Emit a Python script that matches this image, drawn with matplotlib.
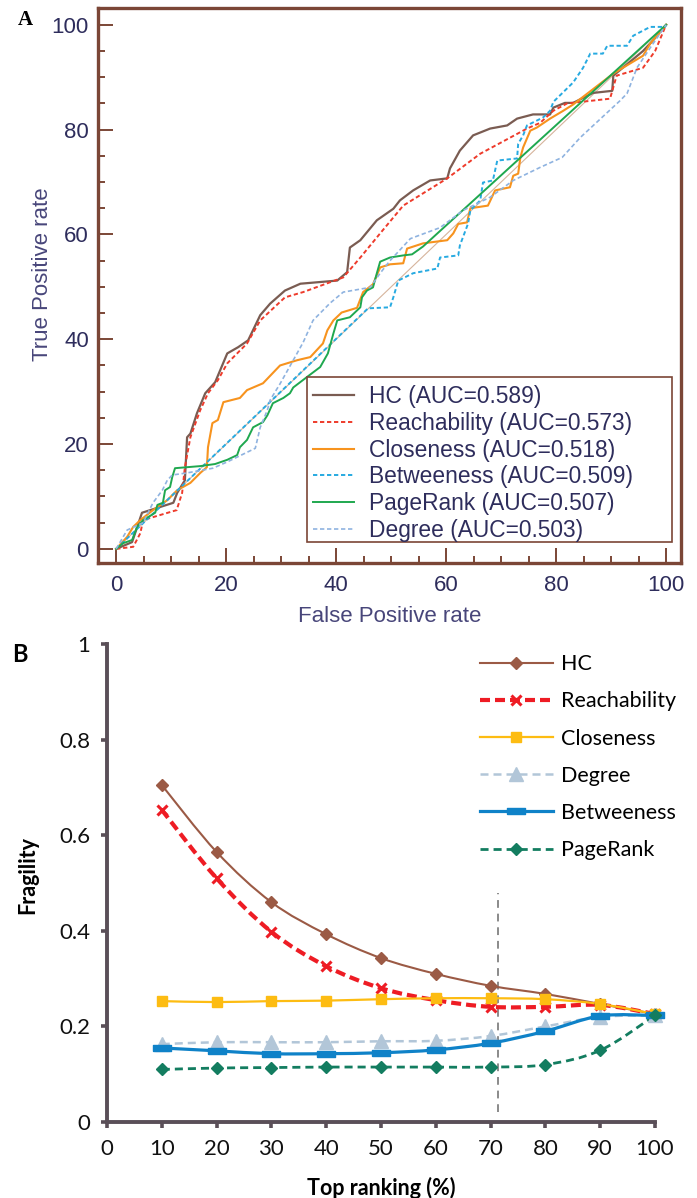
import numpy as np
import matplotlib
matplotlib.use('Agg')
import matplotlib.pyplot as plt
from matplotlib.path import Path
from matplotlib.patches import PathPatch, Rectangle
from matplotlib.lines import Line2D
from matplotlib.ticker import MultipleLocator

# ---------------- panel A : ROC curves ----------------
hc_fpr = [0, 2.9, 4.7, 10.4, 11.1, 12.5, 12.9, 13.5, 14.7, 16.2, 18, 20.2, 22.2, 24, 26.2, 28,
          30.7, 33.5, 40.2, 42, 42.5, 44.4, 47.4, 50.4, 51.6, 54, 57.1, 60.2, 60.7, 62.5, 64.9,
          68, 71.1, 72.9, 75.8, 78.9, 79.5, 81.6, 83.1, 86.7, 90.2, 90.4, 95.8, 97.6, 100]
hc_tpr = [0, 1.3, 6.9, 8.8, 10.7, 13.1, 21.3, 22, 25.9, 29.7, 31.8, 37.3, 38.5, 39.8, 44.6, 46.8,
          49.3, 50.6, 51.2, 52.8, 57.5, 58.9, 62.7, 64.9, 66.5, 68.4, 70.3, 70.7, 72.6, 76, 78.9,
          80.2, 80.8, 82.1, 82.9, 82.9, 84.2, 85.1, 85.1, 87, 87.4, 90.3, 95, 97, 100]

reach_fpr = [0, 3.1, 4.4, 4.9, 11, 12, 12.5, 13.5, 15.3, 16.7, 18.5, 20.2, 23.8, 26.2, 30.7, 34,
             41.3, 44.4, 48, 52.2, 60.2, 66.2, 74.7, 77.1, 79.5, 82, 89.8, 91, 95.8, 98, 100]
reach_tpr = [0, 0.4, 3, 5.5, 7.4, 10.7, 15.6, 21.3, 26.5, 29.7, 32.2, 35.4, 39.2, 43.6, 48, 49,
             51.8, 55.6, 60.2, 65.5, 70.7, 75.4, 80.2, 81.3, 83.6, 85, 85.9, 90.3, 91.8, 95, 100]

close_fpr = [0, 2, 3.1, 4.4, 6.7, 9.3, 11.1, 13.5, 15.3, 16.5, 16.7, 17.5, 18.5, 19.5, 22.5, 23.8,
             26.7, 29.8, 32.9, 35.3, 37.6, 38.4, 39.5, 41, 43.8, 44.9, 46.7, 48, 49.8, 52.2, 52.9,
             55.8, 60.2, 61.3, 62.2, 63.8, 64.4, 67.6, 68.9, 71.6, 72.2, 73.1, 73.5, 74, 75.3,
             76.5, 78.9, 81.3, 83.1, 90.4, 95.8, 97.1, 100]
close_tpr = [0, 2.3, 4.2, 5.5, 7.4, 9.3, 11.2, 12.6, 14.5, 15.6, 19.4, 24, 24.6, 28, 28.8, 30.3,
             31.6, 35, 36, 36.6, 39.2, 41.7, 43.6, 45.1, 46, 49, 50.5, 53.7, 54.3, 54.5, 57.3,
             58.3, 58.9, 60.2, 62, 62.3, 65, 65.5, 68.4, 69, 71.2, 71.6, 74.7, 76.6, 79.8,
             80.4, 82.1, 83.6, 84.8, 90.7, 94.1, 96.4, 100]

betw_fpr = [0, 45.8, 49.8, 50.4, 51.3, 54, 58.4, 58.9, 62.2, 62.5, 64, 64.4, 66.2, 66.7, 68.5, 69.3,
            72.9, 73.1, 74, 74.7, 77.6, 78.9, 79.5, 83.1, 84.9, 86.2, 88.5, 89.3, 92.9, 94, 97.1,
            99.8, 100]
betw_tpr = [0, 45.9, 46.1, 48, 51.2, 52.6, 53.5, 55.6, 56, 57.9, 62.1, 64.6, 66.5, 69.9, 70.3, 74.1,
            74.5, 77.3, 78.9, 80.8, 82.3, 83.6, 85.3, 89, 91.8, 94.5, 94.5, 96, 96, 97.9, 99.6,
            99.6, 100]

pr_fpr = [0, 1.3, 2.9, 3.8, 4.9, 7.1, 7.5, 8.5, 8.9, 9.8, 10.2, 10.7, 15.3, 18, 20.2, 22, 22.5,
          23.8, 24.9, 26.7, 27.5, 28.5, 30.4, 31.6, 32.2, 34.7, 37.1, 38.5, 39.5, 40.2, 42.5,
          44.4, 44.7, 45.6, 46.7, 47.4, 48, 49.8, 52.2, 53.8, 55.8, 100]
pr_tpr = [0, 1.1, 1.7, 4.2, 5.5, 6.9, 8.4, 8.8, 11.2, 11.8, 13.7, 15.4, 15.8, 16.2, 17, 17.9, 19.4,
          20.8, 23.2, 24.2, 25.5, 27.8, 28.8, 29.7, 30.8, 32.8, 34.7, 37.3, 41.1, 43.6, 44.2,
          46.1, 48, 49.3, 49.9, 52.6, 54.8, 55.6, 56, 56.2, 57.7, 100]

deg_fpr = [0, 2, 4.9, 6.7, 8.4, 9.3, 10.2, 12.9, 17.6, 20.2, 25.3, 26.2, 27.5, 28, 29.8, 32.2, 34,
           35.8, 38.9, 41.3, 46.2, 48, 49.8, 53.5, 58.9, 63.1, 68, 72.2, 77.1, 81.1, 84.4, 91.6,
           92.9, 94.7, 97.1, 100]
deg_tpr = [0, 3.6, 5, 8.8, 11.2, 13.1, 14.1, 14.5, 15.4, 16.6, 19.2, 23.2, 26.5, 28.4, 31.5, 36,
           39.4, 43.6, 46.9, 49, 49.9, 52.6, 55, 59.2, 61.3, 64.6, 67.1, 70.3, 72.8, 74.7, 78.5,
           85.5, 86.9, 91.8, 95.6, 100]

roc_names = ['HC', 'Reachability', 'Closeness', 'Betweeness', 'PageRank', 'Degree']
roc_auc = [0.589, 0.573, 0.518, 0.509, 0.507, 0.503]

# ---------------- panel B : fragility ----------------
top_rank = [10, 20, 30, 40, 50, 60, 70, 80, 90, 100]
frag_hc = [0.705, 0.565, 0.460, 0.393, 0.343, 0.310, 0.285, 0.268, 0.247, 0.226]
frag_reach = [0.653, 0.510, 0.398, 0.326, 0.280, 0.255, 0.241, 0.241, 0.245, 0.226]
frag_close = [0.253, 0.251, 0.253, 0.254, 0.257, 0.259, 0.259, 0.257, 0.247, 0.226]
frag_deg = [0.163, 0.167, 0.167, 0.167, 0.169, 0.170, 0.180, 0.200, 0.220, 0.223]
frag_betw = [0.155, 0.149, 0.143, 0.143, 0.145, 0.151, 0.165, 0.190, 0.222, 0.223]
frag_pr = [0.110, 0.113, 0.114, 0.115, 0.115, 0.115, 0.115, 0.120, 0.150, 0.223]
cutoff = 71.4


def smooth_path(xs, ys):
    # excel style smoothed line through the points (catmull-rom as bezier)
    pts = np.column_stack([xs, ys]).astype(float)
    p = np.vstack([pts[0], pts, pts[-1]])
    verts = [pts[0]]
    codes = [Path.MOVETO]
    for i in range(1, len(p) - 2):
        c1 = p[i] + (p[i + 1] - p[i - 1]) / 6
        c2 = p[i + 1] - (p[i + 2] - p[i]) / 6
        verts += [c1, c2, p[i + 1]]
        codes += [Path.CURVE4] * 3
    return Path(verts, codes)


fig = plt.figure(figsize=(6.97, 11.98), dpi=100)

# ======== A ========
brown = '#7b4636'
navy = '#2e2d5c'
axA = fig.add_axes([0.1406, 0.530, 0.8364, 0.4633])
axA.plot([0, 100], [0, 100], color='#d6b49c', lw=0.8, zorder=1)
rocs = [
    (hc_fpr, hc_tpr, '#7a5c52', '-', 1.6),
    (reach_fpr, reach_tpr, '#ee3b2b', (0, (2.2, 1.4)), 1.4),
    (close_fpr, close_tpr, '#f7931e', '-', 1.5),
    (betw_fpr, betw_tpr, '#27aae1', (0, (2.2, 1.4)), 1.4),
    (pr_fpr, pr_tpr, '#1fa84f', '-', 1.4),
    (deg_fpr, deg_tpr, '#8fb3e0', (0, (2.6, 1.6)), 1.2),
]
for (fx, ty, c, ls, lw), name, auc in zip(rocs, roc_names, roc_auc):
    axA.plot(fx, ty, color=c, ls=ls, lw=lw, label='%s (AUC=%.3f)' % (name, auc))

axA.set_xlim(-3.3, 102.7)
axA.set_ylim(-2.7, 103.2)
axA.xaxis.set_major_locator(MultipleLocator(20))
axA.xaxis.set_minor_locator(MultipleLocator(5))
axA.yaxis.set_major_locator(MultipleLocator(20))
axA.yaxis.set_minor_locator(MultipleLocator(5))
for s in axA.spines.values():
    s.set_color(brown)
    s.set_linewidth(2.4)
axA.tick_params(which='both', direction='in', color=brown, width=1.4,
                top=False, right=False)
axA.tick_params(which='major', length=10.5, labelsize=16, labelcolor=navy)
axA.tick_params(which='minor', length=5)
axA.tick_params(axis='x', pad=8.5)
axA.tick_params(axis='y', pad=6.5)
for t in axA.get_xticklabels() + axA.get_yticklabels():
    t.set_family('Liberation Sans')
axA.set_xlabel('False Positive rate', fontsize=16, color='#48467a', family='Liberation Sans')
axA.set_ylabel('True Positive rate', fontsize=16, color='#48467a', family='Liberation Sans')
axA.xaxis.set_label_coords(0.5, -0.078)
axA.yaxis.set_label_coords(-0.077, 0.52)
# legend box drawn separately so its frame can be wider than the text
axA.add_patch(Rectangle((0.358, 0.038), 0.627, 0.297, transform=axA.transAxes, fill=True,
                        facecolor='white', edgecolor=brown, lw=1.2, zorder=4))
legA = axA.legend(loc='upper left', bbox_to_anchor=(0.368, 0.320), frameon=False,
                  borderaxespad=0, prop={'family': 'Liberation Sans', 'size': 16.4},
                  handlelength=1.8, handletextpad=0.7, labelspacing=0.16, borderpad=0)
legA.set_zorder(5)
for t in legA.get_texts():
    t.set_color(navy)
fig.text(0.025, 0.979, 'A', family='Liberation Serif', weight='bold', fontsize=15, color='black')

# ======== B ========
grey = '#5a4f58'
axB = fig.add_axes([0.1535, 0.0634, 0.7862, 0.399])
rect = [(-1, -0.35), (1, -0.35), (1, 0.35), (-1, 0.35), (-1, -0.35)]
series = [
    ('HC', frag_hc, '#9b5a45', '-', 1.5, 'D', 6.5, None),
    ('Reachability', frag_reach, '#ee1c24', (0, (2.4, 1.2)), 3.0, 'x', 7.5, 2.2),
    ('Closeness', frag_close, '#fdbc12', '-', 1.6, 's', 7.5, None),
    ('Degree', frag_deg, '#b2c6d8', (0, (3.2, 2.0)), 1.8, '^', 10, None),
    ('Betweeness', frag_betw, '#0f82c8', '-', 2.3, rect, 13, None),
    ('PageRank', frag_pr, '#137d60', (0, (2.9, 1.8)), 2.0, 'D', 6.5, None),
]
handles = []
for name, vals, c, ls, lw, mk, ms, mew in series:
    patch = PathPatch(smooth_path(top_rank, vals), fill=False, edgecolor=c, lw=lw,
                      linestyle=ls, clip_on=False, zorder=2)
    axB.add_patch(patch)
    kw = dict(color=c, marker=mk, ms=ms)
    if mew:
        kw['mew'] = mew
    axB.plot(top_rank, vals, ls='none', clip_on=False, zorder=3, **kw)
    handles.append(Line2D([0], [0], ls=ls, lw=lw, label=name, **kw))

axB.vlines(cutoff, 0.02, 0.48, colors='#8a8a8a', linestyles=(0, (4, 3)), lw=1.4, zorder=1)

axB.set_xlim(0, 100)
axB.set_ylim(0, 1)
axB.set_xticks(np.arange(0, 101, 10))
axB.set_yticks([0, 0.2, 0.4, 0.6, 0.8, 1])
axB.set_yticklabels(['0', '0.2', '0.4', '0.6', '0.8', '1'])
for side in ['top', 'right']:
    axB.spines[side].set_visible(False)
for side in ['left', 'bottom']:
    axB.spines[side].set_color(grey)
    axB.spines[side].set_linewidth(2.8)
axB.tick_params(direction='out', length=4, width=2.6, color=grey, labelsize=16,
                labelcolor='#111111', pad=8)
for t in axB.get_xticklabels() + axB.get_yticklabels():
    t.set_family('Lato')
axB.set_xlabel('Top ranking (%)', fontsize=15.5, weight='bold', family='Lato')
axB.set_ylabel('Fragility', fontsize=15.5, weight='bold', family='Lato')
axB.xaxis.set_label_coords(0.5, -0.115)
axB.yaxis.set_label_coords(-0.125, 0.517)
legB = axB.legend(handles=handles, loc='upper left', bbox_to_anchor=(0.68, 0.979), frameon=False,
                  prop={'family': 'Lato', 'size': 15.5}, handlelength=3.4, handletextpad=0.4,
                  labelspacing=0.8, borderpad=0, borderaxespad=0)
fig.text(0.018, 0.447, 'B', family='Lato', weight='bold', fontsize=17, color='black')

fig.savefig('out.png', dpi=100)
